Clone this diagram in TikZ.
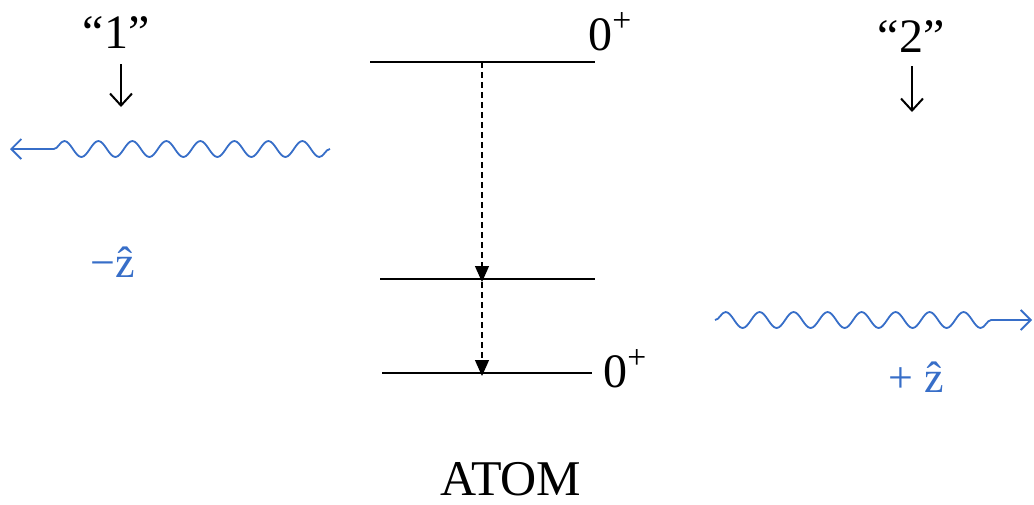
\documentclass[tikz,border=0pt]{standalone}
\usepackage{fontspec}
\setmainfont{Liberation Serif}
\usetikzlibrary{arrows.meta,decorations.pathmorphing}
\definecolor{wblue}{RGB}{55,110,200}
\begin{document}
\begin{tikzpicture}[x=0.5pt,y=-0.5pt,
  lbl/.style={inner sep=0pt,font=\fontsize{24}{28}\selectfont},
  bluelbl/.style={inner sep=0pt,text=wblue,font=\fontsize{22}{26}\selectfont},
  level/.style={line width=0.8pt},
  pointer/.style={line width=1pt,-{Straight Barb[length=6pt,width=11pt]}},
  trans/.style={line width=0.6pt,dash pattern=on 3pt off 2pt,-{Triangle[length=8pt,width=7pt]}},
  photon/.style={wblue,line width=0.9pt,decorate,
    decoration={snake,segment length=17pt,amplitude=4pt,post length=#1},
    -{Straight Barb[length=5pt,width=10pt]}}]
\useasboundingbox (0,0) rectangle (1034,504);
% labels
\node[lbl] (one) at (116,33) {“1”};
\node[lbl] (two) at (911,37) {“2”};
\coordinate (p1s) at (121,64);
\coordinate (p1e) at (121,107);
\coordinate (p2s) at (912,66);
\coordinate (p2e) at (912,112);
\draw[pointer] (p1s) -- (p1e);
\draw[pointer] (p2s) -- (p2e);
% photons
\coordinate (w1s) at (330,149);
\coordinate (w1e) at (10,149);
\draw[photon=19pt] (w1s) -- (w1e);
\coordinate (w2s) at (715,320);
\coordinate (w2e) at (1032,320);
\draw[photon=15pt] (w2s) -- (w2e);
\node[bluelbl] (mz) at (113,262) {−\^z};
\node[bluelbl] (pz) at (916,377) {+ \^z};
% levels
\coordinate (a1) at (370,62);
\coordinate (a2) at (595,62);
\coordinate (b1) at (380,279);
\coordinate (b2) at (595,279);
\coordinate (c1) at (382,373);
\coordinate (c2) at (592,373);
\draw[level] (a1) -- (a2);
\draw[level] (b1) -- (b2);
\draw[level] (c1) -- (c2);
\coordinate (ta) at (482,62);
\coordinate (tb) at (482,282);
\coordinate (tc) at (482,376);
\draw[trans] (ta) -- (tb);
\draw[trans] (tb) -- (tc);
\node[lbl,anchor=base west] (j1) at (588,50) {0\textsuperscript{+}};
\node[lbl,anchor=base west] (j3) at (603,387) {0\textsuperscript{+}};
\node[lbl,font=\fontsize{25}{30}\selectfont] (atom) at (511,479) {ATOM};
\end{tikzpicture}
\end{document}
